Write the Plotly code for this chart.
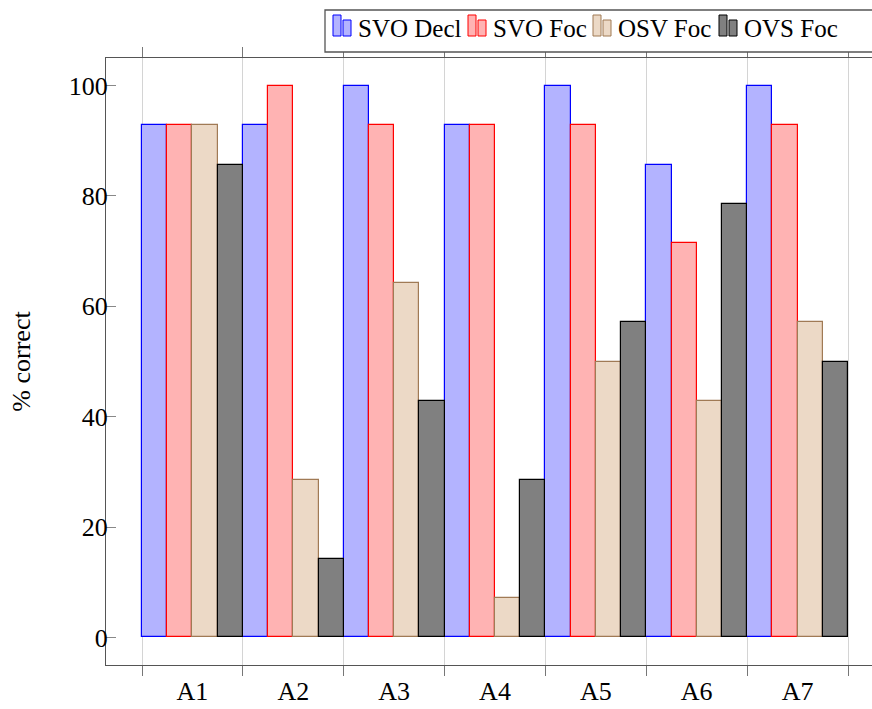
import plotly.graph_objects as go

categories = ["A1", "A2", "A3", "A4", "A5", "A6", "A7"]
series_names = ["SVO Decl", "SVO Foc", "OSV Foc", "OVS Foc"]
svo_decl = [92.9, 92.9, 100, 92.9, 100, 85.7, 100]
svo_foc = [92.9, 100, 92.9, 92.9, 92.9, 71.4, 92.9]
osv_foc = [92.9, 28.6, 64.3, 7.1, 50, 42.9, 57.1]
ovs_foc = [85.7, 14.3, 42.9, 28.6, 57.1, 78.6, 50]
y_ticks = [0, 20, 40, 60, 80, 100]
y_label = "% correct"

series_values = [svo_decl, svo_foc, osv_foc, ovs_foc]
fills = ["#b3b3ff", "#ffb3b3", "#ecd9c6", "#808080"]
borders = ["#0000ff", "#ff0000", "#a07a55", "#000000"]

FONT = "Liberation Serif"
FS = 26
W, H = 872, 709
ML, MR, MT, MB = 106, 0, 58, 44
PW, PH = W - ML - MR, H - MT - MB

centers = [i + 0.5 for i in range(len(categories))]
boundaries = list(range(len(categories) + 1))

fig = go.Figure()
for name, vals, fc, bc in zip(series_names, series_values, fills, borders):
    fig.add_trace(go.Bar(
        x=centers, y=vals, name=name,
        marker=dict(color=fc, line=dict(color=bc, width=1.2)),
        showlegend=False,
    ))

# dummy trace for label axis
fig.add_trace(go.Scatter(x=centers, y=[None] * len(centers), xaxis="x2",
                         showlegend=False, hoverinfo="skip", mode="markers"))

xr = [-36 / 100.86, (W - 142) / 100.86]

fig.update_layout(
    width=W, height=H,
    margin=dict(l=ML, r=MR, t=MT, b=MB, autoexpand=False),
    paper_bgcolor="white", plot_bgcolor="white",
    barmode="group", bargap=0, bargroupgap=0,
    font=dict(family=FONT, size=FS, color="black"),
    xaxis=dict(
        range=xr, tickmode="array", tickvals=boundaries,
        ticktext=[""] * len(boundaries),
        showgrid=True, gridcolor="#d4d4d4", gridwidth=1,
        ticks="outside", ticklen=10, tickcolor="#777", tickwidth=1,
        showline=True, linecolor="#555", linewidth=1.3, mirror="ticks",
        zeroline=False,
    ),
    xaxis2=dict(
        range=xr, overlaying="x", anchor="y", side="bottom",
        tickmode="array", tickvals=centers, ticktext=categories,
        showgrid=False, ticks="outside", ticklen=3, tickcolor="rgba(0,0,0,0)",
        showline=False, zeroline=False, ticklabelstandoff=0,
        tickfont=dict(family=FONT, size=FS),
    ),
    yaxis=dict(
        range=[-5, 105], tickmode="array", tickvals=y_ticks,
        ticks="inside", ticklen=10, tickcolor="#888", tickwidth=1,
        showline=True, linecolor="#555", linewidth=1.3, mirror=False,
        showgrid=False, zeroline=False, ticklabelstandoff=-8,
        title=dict(text=y_label, standoff=30, font=dict(family=FONT, size=FS)),
    ),
)

# custom legend (pgfplots style)
def px(x):
    return (x - ML) / PW

def py(y):
    return (H - MB - y) / PH

shapes = [dict(type="rect", xref="paper", yref="paper",
               x0=px(325), x1=px(900), y0=py(52), y1=py(10),
               line=dict(color="#555", width=1.3), fillcolor="white", layer="above")]
annotations = []
item_starts = [333, 468, 593, 719]
for s, name, fc, bc in zip(item_starts, series_names, fills, borders):
    shapes.append(dict(type="rect", xref="paper", yref="paper",
                       x0=px(s), x1=px(s + 8), y0=py(36), y1=py(15),
                       line=dict(color=bc, width=1), fillcolor=fc, layer="above"))
    shapes.append(dict(type="rect", xref="paper", yref="paper",
                       x0=px(s + 10), x1=px(s + 18), y0=py(36), y1=py(20),
                       line=dict(color=bc, width=1), fillcolor=fc, layer="above"))
    annotations.append(dict(xref="paper", yref="paper", x=px(s + 23), y=py(29),
                            xanchor="left", yanchor="middle", showarrow=False,
                            text=name, font=dict(family=FONT, size=25, color="black")))

fig.update_layout(shapes=shapes, annotations=annotations)
fig.write_html("out.html", config={"displayModeBar": False},
               post_script="document.body.style.margin='0';document.body.style.overflow='hidden';")
